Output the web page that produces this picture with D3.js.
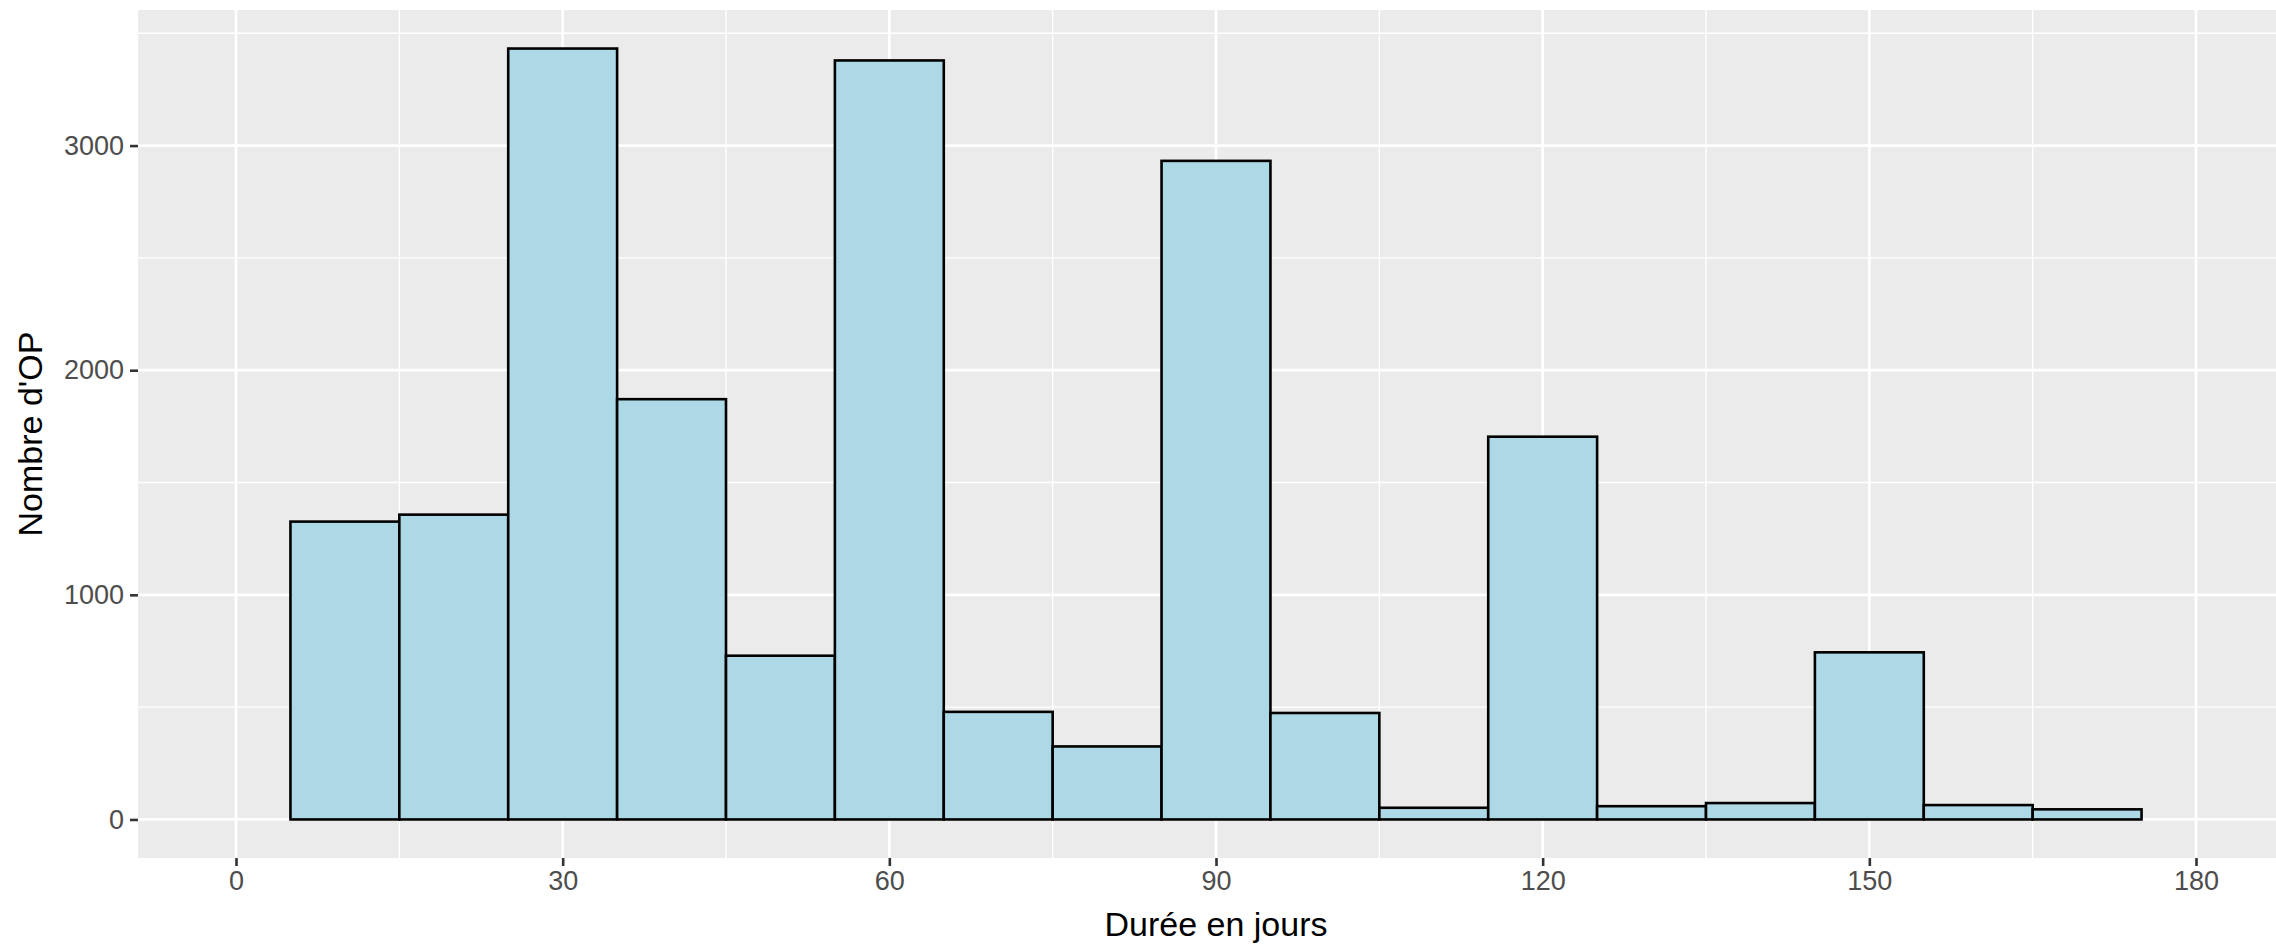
<!DOCTYPE html>
<html>
<head>
<meta charset="utf-8">
<script src="https://cdn.jsdelivr.net/npm/d3@7"></script>
<style>
  html, body { margin: 0; padding: 0; background: #ffffff; }
  svg { display: block; font-family: "Liberation Sans", Arial, sans-serif; }
</style>
</head>
<body>
<svg id="chart" width="2276" height="945"></svg>
<script>
// ---- Data ----
const binStart = [5, 15, 25, 35, 45, 55, 65, 75, 85, 95, 105, 115, 125, 135, 145, 155, 165];
const binEnd   = [15, 25, 35, 45, 55, 65, 75, 85, 95, 105, 115, 125, 135, 145, 155, 165, 175];
const counts   = [1326, 1357, 3432, 1871, 729, 3379, 479, 325, 2932, 474, 52, 1704, 59, 73, 744, 64, 45];
const xTicks = [0, 30, 60, 90, 120, 150, 180];
const xMinor = [15, 45, 75, 105, 135, 165];
const yTicks = [0, 1000, 2000, 3000];
const yMinor = [500, 1500, 2500, 3500];
const xTitle = "Durée en jours";
const yTitle = "Nombre d'OP";

// ---- Layout ----
const W = 2276, H = 945;
const panel = { left: 138, top: 10, right: 2294, bottom: 858 };

const svg = d3.select("#chart");

const xLim = [0, 180];
const xPad = (xLim[1] - xLim[0]) * 0.05;
const x = d3.scaleLinear().domain([xLim[0] - xPad, xLim[1] + xPad]).range([panel.left, panel.right]);
const yMax = d3.max(counts);
const y = d3.scaleLinear().domain([-yMax * 0.05, yMax * 1.05]).range([panel.bottom, panel.top]);

// Panel background
svg.append("rect")
  .attr("x", panel.left).attr("y", panel.top)
  .attr("width", panel.right - panel.left).attr("height", panel.bottom - panel.top)
  .attr("fill", "#EBEBEB");

const grid = svg.append("g");
// minor grid
grid.selectAll(".xminor").data(xMinor).join("line")
  .attr("x1", d => x(d)).attr("x2", d => x(d))
  .attr("y1", panel.top).attr("y2", panel.bottom)
  .attr("stroke", "#ffffff").attr("stroke-width", 1.4);
grid.selectAll(".yminor").data(yMinor).join("line")
  .attr("x1", panel.left).attr("x2", panel.right)
  .attr("y1", d => y(d)).attr("y2", d => y(d))
  .attr("stroke", "#ffffff").attr("stroke-width", 1.4);
// major grid
grid.selectAll(".xmajor").data(xTicks).join("line")
  .attr("x1", d => x(d)).attr("x2", d => x(d))
  .attr("y1", panel.top).attr("y2", panel.bottom)
  .attr("stroke", "#ffffff").attr("stroke-width", 2.7);
grid.selectAll(".ymajor").data(yTicks).join("line")
  .attr("x1", panel.left).attr("x2", panel.right)
  .attr("y1", d => y(d)).attr("y2", d => y(d))
  .attr("stroke", "#ffffff").attr("stroke-width", 2.7);

// Bars
svg.append("g").selectAll("rect").data(counts).join("rect")
  .attr("x", (d, i) => x(binStart[i]))
  .attr("width", (d, i) => x(binEnd[i]) - x(binStart[i]))
  .attr("y", d => y(d))
  .attr("height", d => y(0) - y(d))
  .attr("fill", "#ADD8E6")
  .attr("stroke", "#000000")
  .attr("stroke-width", 2.6);

// Axes
const xAxis = d3.axisBottom(x).tickValues(xTicks).tickFormat(d3.format("d"))
  .tickSizeOuter(0).tickSize(8).tickPadding(5);
const gx = svg.append("g").attr("transform", `translate(0,${panel.bottom})`).call(xAxis);
gx.select(".domain").remove();
gx.selectAll(".tick line").attr("stroke", "#333333").attr("stroke-width", 2.6);
gx.selectAll(".tick text").attr("fill", "#4D4D4D").attr("font-size", 27)
  .attr("font-family", "Liberation Sans, Arial, sans-serif");

const yAxis = d3.axisLeft(y).tickValues(yTicks).tickFormat(d3.format("d"))
  .tickSizeOuter(0).tickSize(8).tickPadding(6);
const gy = svg.append("g").attr("transform", `translate(${panel.left},0)`).call(yAxis);
gy.select(".domain").remove();
gy.selectAll(".tick line").attr("stroke", "#333333").attr("stroke-width", 2.6);
gy.selectAll(".tick text").attr("fill", "#4D4D4D").attr("font-size", 27)
  .attr("font-family", "Liberation Sans, Arial, sans-serif");

// Titles
svg.append("text")
  .attr("x", (panel.left + panel.right) / 2).attr("y", 936)
  .attr("text-anchor", "middle").attr("font-size", 34).attr("fill", "#000000")
  .text(xTitle);
svg.append("text")
  .attr("transform", `translate(42,${(panel.top + panel.bottom) / 2}) rotate(-90)`)
  .attr("text-anchor", "middle").attr("font-size", 34).attr("fill", "#000000")
  .text(yTitle);
</script>
</body>
</html>
